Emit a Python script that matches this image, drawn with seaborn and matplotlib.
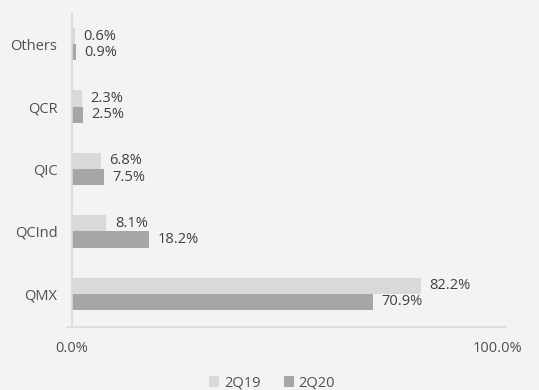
import matplotlib
matplotlib.use("Agg")
import matplotlib.pyplot as plt
import seaborn as sns
import pandas as pd
from matplotlib.patches import Patch

categories = ["Others", "QCR", "QIC", "QCInd", "QMX"]
series_names = ["2Q19", "2Q20"]
values_2q19 = [0.6, 2.3, 6.8, 8.1, 82.2]
values_2q20 = [0.9, 2.5, 7.5, 18.2, 70.9]
xtick_values = [0, 100]
xtick_labels = ["0.0%", "100.0%"]

colors = {"2Q19": "#d9d9d9", "2Q20": "#a6a6a6"}
bg = "#f3f3f5"
txt = "#505050"

df = pd.DataFrame({
    "category": categories * 2,
    "series": [series_names[0]] * len(categories) + [series_names[1]] * len(categories),
    "value": values_2q19 + values_2q20,
})

sns.set_theme(style="white")
plt.rcParams["font.family"] = ["Open Sans", "DejaVu Sans"]

fig = plt.figure(figsize=(5.39, 3.90), dpi=100, facecolor=bg)
W, H = 539, 390
ax = fig.add_axes([67 / W, 1 - 327 / H, 439 / W, (327 - 13) / H], facecolor=bg)

sns.barplot(data=df, y="category", x="value", hue="series", order=categories,
            hue_order=series_names, palette=colors, orient="h", width=0.52,
            saturation=1, ax=ax, legend=False, edgecolor="none")

ax.set_xlim(-5 / 425 * 100, (439 - 5) / 425 * 100)
ax.set_ylim(4.5 + 2 / 62.4, -0.5)

for cont, name in zip(ax.containers, series_names):
    labels = [f"{v:.1f}%" for v in cont.datavalues]
    ax.bar_label(cont, labels=labels, padding=6, fontsize=10.5, color="#404040")

ax.axvline(0, ymin=2 / 314, ymax=1, color="#d9d9d9", lw=1.2)

for s in ["top", "right", "left"]:
    ax.spines[s].set_visible(False)
ax.spines["bottom"].set_color("#d9d9d9")
ax.spines["bottom"].set_linewidth(1.2)

ax.set_xticks(xtick_values)
ax.set_xticklabels(xtick_labels)
ax.tick_params(axis="x", length=0, pad=10, labelsize=10.5, labelcolor=txt)
ax.tick_params(axis="y", length=0, pad=7, labelsize=10.5, labelcolor=txt)
ax.set_xlabel("")
ax.set_ylabel("")

handles = [Patch(facecolor=colors[n], edgecolor="none") for n in series_names]
fig.legend(handles, series_names, loc="center", bbox_to_anchor=(272 / W, 1 - 383 / H),
           ncol=2, frameon=False, fontsize=10.5, handlelength=0.7, handleheight=0.7,
           handletextpad=0.3, columnspacing=1.6, labelcolor=txt)

fig.savefig("out.png", dpi=100, facecolor=bg)
